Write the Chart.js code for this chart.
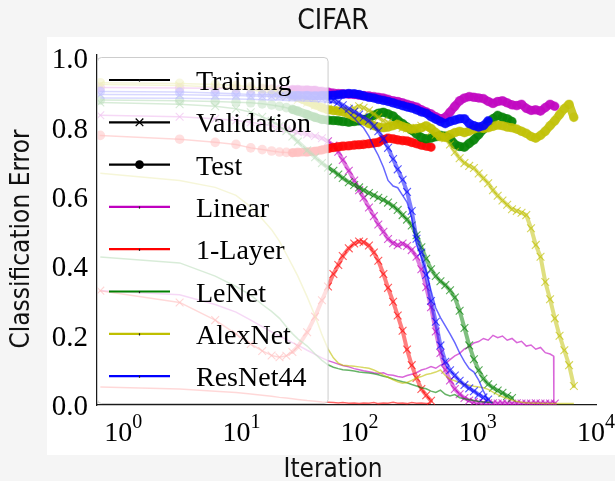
<!DOCTYPE html>
<html>
<head>
<meta charset="utf-8">
<script src="https://cdn.jsdelivr.net/npm/chart.js@4.4.1/dist/chart.umd.min.js"></script>
<style>
html,body{margin:0;padding:0;background:#f5f5f5;overflow:hidden;}
canvas{display:block;}
</style>
</head>
<body>
<canvas id="chart" width="615" height="481"></canvas>
<script>
// ---- iterations (x values) ----
const iterations = [0.64, 3, 6, 9, 12, 15, 18, 21, 24, 27,
  30, 36, 42, 48, 54, 60, 66, 72, 81, 90,
  99, 108, 120, 132, 144, 159, 174, 192, 210, 231,
  252, 276, 303, 333, 366, 402, 441, 483, 531, 582,
  639, 702, 771, 846, 927, 1017, 1116, 1224, 1344, 1473,
  1617, 1773, 1947, 2136, 2343, 2571, 2820, 3093, 3393, 3723,
  4086, 4482, 4917, 5394, 5919, 6495];
const linearTrainIters = iterations.slice(0, 61).concat([4380, 4400]);

// ---- Linear ----
const linearTrain = [.330, .318, .290, .268, .245, .226, .211, .199, .189, .180,
  .173, .158, .146, .136, .128, .123, .118, .114, .110, .105,
  .102, .099, .096, .093, .091, .093, .087, .086, .082, .080,
  .085, .089, .093, .101, .105, .111, .106, .115, .119, .131,
  .142, .149, .162, .168, .179, .183, .192, .187, .201, .194,
  .199, .187, .192, .180, .184, .170, .173, .161, .166, .151,
  .147, .141, .004];
const linearVal = [.836, .832, .826, .821, .816, .811, .806, .801, .796, .791,
  .787, .781, .776, .770, .761, .749, .731, .707, .676, .648,
  .620, .598, .570, .545, .521, .500, .479, .467, .461, .466,
  .459, .447, .428, .392, .340, .282, .212, .150, .102, .071,
  .046, .031, .020, .013, .009, .007, .006, .005, .005, .004,
  .005, .004, .004, .005, .004, .004, .004, .005, .004, .004,
  .004, .004];
const linearTest = [.916, .915, .914, .914, .913, .912, .912, .911, .910, .910,
  .910, .909, .908, .905, .903, .900, .899, .898, .897, .896,
  .894, .893, .892, .890, .888, .886, .882, .878, .876, .872,
  .868, .864, .860, .852, .846, .840, .832, .826, .830, .845,
  .862, .878, .886, .890, .888, .886, .884, .876, .870, .876,
  .878, .872, .866, .864, .868, .856, .850, .852, .848, .858,
  .868, .862];

// ---- 1-Layer ----
const oneLayerTrain = [.052, .046, .040, .036, .032, .028, .025, .022, .020, .018,
  .016, .013, .011, .009, .008, .007, .006, .007, .005, .006,
  .004, .006, .005, .007, .004, .006, .005, .008, .005, .006,
  .004, .007, .005, .006, .004, .005];
const oneLayerVal = [.330, .296, .245, .205, .176, .156, .143, .138, .142, .153,
  .168, .210, .255, .302, .342, .378, .404, .430, .452, .466,
  .472, .470, .460, .440, .416, .378, .338, .298, .258, .214,
  .160, .115, .078, .046, .028, .012];
const oneLayerTest = [.778, .767, .758, .752, .742, .737, .733, .730, .729, .728,
  .729, .730, .732, .736, .740, .743, .745, .747, .748, .750,
  .751, .752, .754, .756, .758, .766, .770, .768, .765, .763,
  .762, .758, .754, .750, .747, .744];

// ---- LeNet ----
const lenetTrain = [.427, .410, .372, .342, .317, .290, .270, .250, .226, .206,
  .191, .170, .147, .129, .116, .109, .105, .102, .100, .098,
  .095, .094, .092, .090, .087, .083, .080, .075, .071, .067,
  .064, .059, .055, .050, .047, .040, .036, .043, .031, .026,
  .030, .021, .018, .015, .013, .010, .009, .008, .007];
const lenetVal = [.873, .868, .862, .855, .845, .832, .820, .805, .790, .775,
  .760, .735, .715, .698, .685, .676, .665, .655, .643, .635,
  .628, .620, .612, .605, .598, .592, .584, .574, .563, .548,
  .535, .518, .490, .455, .422, .392, .372, .357, .346, .331,
  .310, .272, .222, .172, .132, .100, .076, .060, .050, .042,
  .035, .026, .020];
const lenetTest = [.880, .878, .876, .874, .872, .869, .866, .862, .858, .853,
  .848, .838, .830, .824, .822, .821, .820, .818, .816, .818,
  .820, .824, .828, .836, .842, .845, .840, .834, .822, .812,
  .802, .793, .782, .772, .768, .770, .774, .778, .776, .770,
  .752, .746, .744, .755, .765, .780, .796, .814, .826, .836,
  .830, .826, .818];

// ---- AlexNet ----
const alexTrain = [.669, .648, .628, .605, .572, .537, .506, .472, .435, .402,
  .372, .312, .257, .203, .162, .136, .121, .115, .113, .112,
  .110, .108, .106, .101, .095, .086, .080, .073, .067, .063,
  .065, .071, .078, .082, .088, .091, .095, .101, .085, .075,
  .070, .064, .060, .057, .054, .052, .050, .045, .037, .030,
  .024, .019, .014, .010, .008, .006, .006, .005, .005, .004,
  .004, .004, .004, .004, .004, .004];
const alexVal = [.925, .922, .918, .914, .910, .905, .900, .895, .890, .885,
  .880, .872, .865, .860, .855, .852, .850, .848, .850, .856,
  .862, .858, .850, .840, .830, .820, .815, .812, .808, .800,
  .798, .794, .800, .806, .800, .790, .780, .778, .770, .752,
  .730, .712, .698, .690, .684, .668, .654, .640, .620, .604,
  .590, .578, .565, .560, .555, .548, .510, .462, .428, .355,
  .305, .250, .200, .158, .115, .055];
const alexTest = [.930, .928, .925, .922, .918, .914, .910, .905, .900, .894,
  .888, .876, .866, .858, .852, .850, .848, .846, .840, .832,
  .826, .820, .812, .806, .802, .800, .802, .806, .810, .804,
  .800, .796, .798, .800, .806, .798, .786, .774, .772, .780,
  .786, .790, .786, .790, .796, .800, .798, .800, .804, .808,
  .806, .802, .800, .796, .790, .784, .775, .770, .778, .790,
  .806, .820, .838, .855, .868, .830];

// ---- ResNet44 ----
const resTrain = [.886, .885, .884, .883, .882, .881, .880, .880, .879, .878,
  .878, .877, .876, .875, .874, .873, .866, .857, .842, .828,
  .812, .800, .775, .744, .720, .686, .648, .632, .627, .605,
  .585, .540, .462, .427, .385, .330, .280, .252, .228, .205,
  .180, .150, .125, .105, .095, .072, .040, .014];
const resVal = [.896, .895, .894, .893, .892, .891, .890, .890, .889, .889,
  .888, .887, .886, .884, .882, .880, .874, .865, .855, .846,
  .838, .830, .820, .805, .790, .768, .742, .710, .680, .650,
  .615, .560, .480, .440, .375, .300, .240, .172, .125, .100,
  .085, .070, .058, .048, .040, .030, .022, .016];
const resTest = [.905, .903, .900, .898, .896, .895, .895, .894, .894, .893,
  .893, .893, .892, .893, .893, .894, .895, .897, .899, .898,
  .896, .892, .888, .886, .882, .879, .876, .872, .868, .864,
  .860, .857, .852, .846, .842, .832, .825, .818, .812, .818,
  .822, .826, .826, .812, .806, .802, .806, .820];

// ---- ticks / labels ----
const yTickValues = [0, 0.2, 0.4, 0.6, 0.8, 1.0];
const yTickLabels = ['0.0', '0.2', '0.4', '0.6', '0.8', '1.0'];
const xTickExponents = ['0', '1', '2', '3', '4'];
const modelNames = ['Linear', '1-Layer', 'LeNet', 'AlexNet', 'ResNet44'];
const splitNames = ['Training', 'Validation', 'Test'];
const denseFrom = 27; // evaluation markers merge into a band beyond this iteration

const colors = {
  'Linear': [191, 0, 191], '1-Layer': [255, 0, 0], 'LeNet': [0, 128, 0],
  'AlexNet': [191, 191, 0], 'ResNet44': [0, 0, 255]
};
function rgba(c, a) { return `rgba(${c[0]},${c[1]},${c[2]},${a})`; }
function toPoints(xs, ys) { return ys.map((y, i) => ({ x: xs[i], y: y })); }

const models = [
  { name: 'Linear', train: [linearTrainIters, linearTrain], val: [iterations, linearVal], test: [iterations, linearTest] },
  { name: '1-Layer', train: [iterations, oneLayerTrain], val: [iterations, oneLayerVal], test: [iterations, oneLayerTest] },
  { name: 'LeNet', train: [iterations, lenetTrain], val: [iterations, lenetVal], test: [iterations, lenetTest] },
  { name: 'AlexNet', train: [iterations, alexTrain], val: [iterations, alexVal], test: [iterations, alexTest] },
  { name: 'ResNet44', train: [iterations, resTrain], val: [iterations, resVal], test: [iterations, resTest] }
];

const datasets = [];
models.forEach(m => {
  const c = colors[m.name];
  datasets.push({ label: m.name + ' Training', data: toPoints(m.train[0], m.train[1]),
    borderColor: rgba(c, 0.6), borderWidth: 1.5, pointRadius: 0 });
  datasets.push({ label: m.name + ' Validation', data: toPoints(m.val[0], m.val[1]),
    borderColor: rgba(c, 0.6), borderWidth: 1.5, borderJoinStyle: 'round', borderCapStyle: 'round',
    segment: {
      borderWidth: s => s.p0.parsed.x >= denseFrom ? 4 : 1.5,
      borderColor: s => s.p0.parsed.x >= denseFrom ? rgba(c, 0.5) : rgba(c, 0.6)
    },
    pointStyle: 'crossRot', pointRadius: 5.5,
    pointBorderWidth: 1.1, pointBorderColor: rgba(c, 0.65), pointBackgroundColor: 'rgba(0,0,0,0)' });
  datasets.push({ label: m.name + ' Test', data: toPoints(m.test[0], m.test[1]),
    borderColor: rgba(c, 0.6), borderWidth: 1.5, borderJoinStyle: 'round', borderCapStyle: 'round',
    segment: {
      borderWidth: s => s.p0.parsed.x >= denseFrom ? 8.5 : 1.5,
      borderColor: s => s.p0.parsed.x >= denseFrom ? rgba(c, 0.85) : rgba(c, 0.6)
    },
    pointStyle: 'circle', pointRadius: 4.8,
    pointBorderWidth: 0, pointBackgroundColor: rgba(c, 0.5) });
});
datasets.reverse(); // first dataset is drawn on top in Chart.js

const SERIF = '"Liberation Serif", "Times New Roman", serif';
const SANS = '"DejaVu Sans Condensed", "DejaVu Sans", sans-serif';

function drawLegend(chart) {
  const { ctx, chartArea: a } = chart;
  ctx.save();
  ctx.font = '28px ' + SERIF;
  const entries = [
    { label: splitNames[0], color: '#000', marker: 'tick' },
    { label: splitNames[1], color: '#000', marker: 'x' },
    { label: splitNames[2], color: '#000', marker: 'dot' }
  ].concat(modelNames.map(n => ({ label: n, color: rgba(colors[n], 1), marker: 'tick' })));
  const maxW = Math.max(...entries.map(e => ctx.measureText(e.label).width));
  const x0 = a.left + 0.5, y0 = a.top + 2.5;
  const textX = x0 + 98.5;
  const x1 = textX + maxW + 17;
  const y1 = a.bottom - 1.5;
  const r = 4;
  ctx.beginPath();
  ctx.moveTo(x0 + r, y0);
  ctx.lineTo(x1 - r, y0); ctx.quadraticCurveTo(x1, y0, x1, y0 + r);
  ctx.lineTo(x1, y1 - r); ctx.quadraticCurveTo(x1, y1, x1 - r, y1);
  ctx.lineTo(x0 + r, y1); ctx.quadraticCurveTo(x0, y1, x0, y1 - r);
  ctx.lineTo(x0, y0 + r); ctx.quadraticCurveTo(x0, y0, x0 + r, y0);
  ctx.closePath();
  ctx.fillStyle = 'rgba(255,255,255,0.75)';
  ctx.fill();
  ctx.strokeStyle = 'rgba(200,200,200,0.9)';
  ctx.lineWidth = 1;
  ctx.stroke();

  const lx0 = x0 + 11.5, lx1 = x0 + 72.5, cx = (lx0 + lx1) / 2;
  entries.forEach((e, i) => {
    const y = y0 + 22.5 + i * 42.3;
    ctx.strokeStyle = e.color;
    ctx.fillStyle = e.color;
    ctx.lineWidth = 2.2;
    ctx.beginPath(); ctx.moveTo(lx0, y); ctx.lineTo(lx1, y); ctx.stroke();
    if (e.marker === 'x') {
      ctx.lineWidth = 1.3;
      ctx.beginPath();
      ctx.moveTo(cx - 3.8, y - 3.8); ctx.lineTo(cx + 3.8, y + 3.8);
      ctx.moveTo(cx + 3.8, y - 3.8); ctx.lineTo(cx - 3.8, y + 3.8);
      ctx.stroke();
    } else if (e.marker === 'dot') {
      ctx.beginPath(); ctx.arc(cx, y, 4.4, 0, Math.PI * 2); ctx.fill();
    } else {
      ctx.fillStyle = '#222';
      ctx.fillRect(cx - 0.6, y - 0.5, 1.2, 2.2);
    }
    ctx.fillStyle = '#000';
    ctx.textAlign = 'left';
    ctx.textBaseline = 'alphabetic';
    ctx.fillText(e.label, textX, y + 10);
  });
  ctx.restore();
}

function drawAxesText(chart) {
  const { ctx, chartArea: a } = chart;
  const xs = chart.scales.x, ys = chart.scales.y;
  ctx.save();
  ctx.fillStyle = '#000';
  ctx.font = '29px ' + SERIF;
  ctx.textAlign = 'right';
  ctx.textBaseline = 'alphabetic';
  yTickValues.forEach((v, i) => {
    const py = ys.getPixelForValue(v);
    ctx.fillText(yTickLabels[i], a.left - 9, py + 10);
  });
  ctx.textAlign = 'left';
  xTickExponents.forEach(e => {
    const px = xs.getPixelForValue(Math.pow(10, Number(e)));
    ctx.font = '28px ' + SERIF;
    const wMain = ctx.measureText('10').width;
    ctx.font = '20px ' + SERIF;
    const wSup = ctx.measureText(e).width;
    const start = px - (wMain + wSup) / 2;
    ctx.font = '28px ' + SERIF;
    ctx.fillText('10', start, a.bottom + 36);
    ctx.font = '20px ' + SERIF;
    ctx.fillText(e, start + wMain, a.bottom + 23);
  });
  ctx.fillStyle = '#111';
  ctx.textAlign = 'center';
  ctx.font = '28px ' + SANS;
  const cx = a.left + 236;
  ctx.fillText('CIFAR', cx, a.top - 26, 76);
  ctx.font = '26px ' + SANS;
  ctx.fillText('Iteration', cx, a.bottom + 72, 99);
  ctx.translate(a.left - 68, a.top + 184);
  ctx.rotate(-Math.PI / 2);
  ctx.fillText('Classification Error', 0, 0, 224);
  ctx.restore();
}

const figurePlugin = {
  id: 'figure',
  beforeDraw(chart) {
    const { ctx, chartArea: a } = chart;
    ctx.save();
    ctx.fillStyle = '#f5f5f5';
    ctx.fillRect(0, 0, chart.width, chart.height);
    ctx.fillStyle = '#ffffff';
    const left = a.left - 50, top = a.top - 18;
    ctx.fillRect(left, top, chart.width - left, (a.bottom + 50) - top);
    ctx.restore();
  },
  afterDatasetsDraw(chart) { drawLegend(chart); },
  afterDraw(chart) { drawAxesText(chart); }
};

new Chart(document.getElementById('chart'), {
  type: 'line',
  data: { datasets: datasets },
  options: {
    responsive: false,
    animation: false,
    devicePixelRatio: 1,
    events: [],
    layout: { padding: { left: 97, right: 19, top: 55, bottom: 76 } },
    plugins: { legend: { display: false }, tooltip: { enabled: false }, title: { display: false } },
    elements: { line: { tension: 0 } },
    scales: {
      x: {
        type: 'logarithmic', min: 0.64, max: 10000,
        ticks: { display: false },
        grid: { display: false, drawTicks: false },
        border: { display: true, color: '#1a1a1a', width: 1.3 }
      },
      y: {
        type: 'linear', min: 0, max: 1.01,
        ticks: { display: false },
        grid: { display: false, drawTicks: false },
        border: { display: true, color: '#1a1a1a', width: 1.3 }
      }
    }
  },
  plugins: [figurePlugin]
});
</script>
</body>
</html>
